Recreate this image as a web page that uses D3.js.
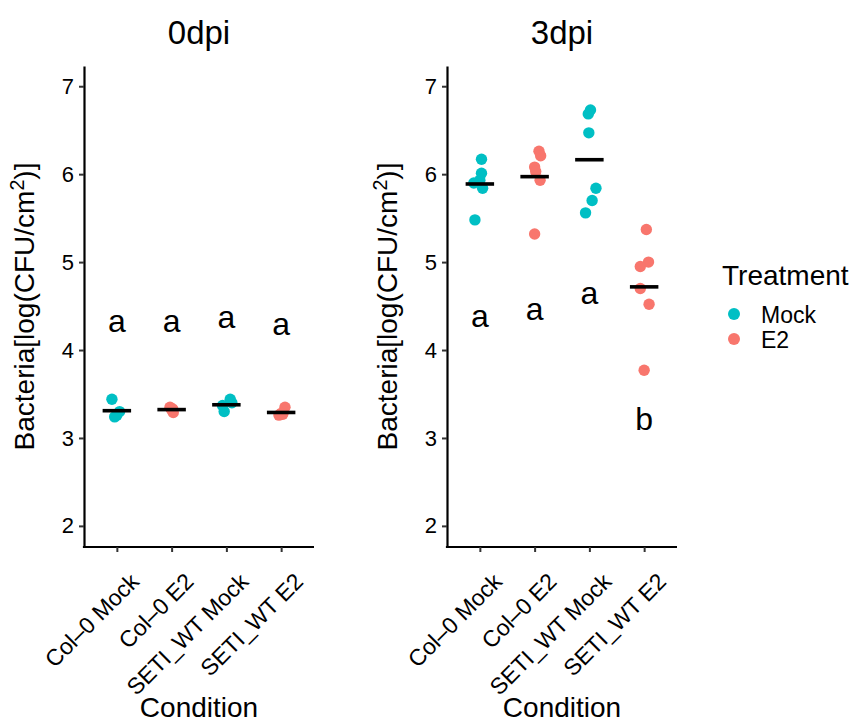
<!DOCTYPE html>
<html><head><meta charset="utf-8">
<script src="https://cdn.jsdelivr.net/npm/d3@7"></script>
<style>
body{margin:0;background:#fff}
text{font-family:"Liberation Sans",Arial,Helvetica,sans-serif;fill:#000}
</style>
</head><body>
<svg id="chart" width="853" height="723"></svg>
<script>
// ---------- data ----------
const categories = ["Col\u20130 Mock", "Col\u20130 E2", "SETI_WT Mock", "SETI_WT E2"];
const categoryTreatment = ["Mock", "E2", "Mock", "E2"];
const panelTitles = ["0dpi", "3dpi"];
const treatments = ["Mock", "E2"];
const treatmentColors = ["#00BFC4", "#F8766D"];
const yTickValues = [2, 3, 4, 5, 6, 7];

// 0dpi values per category
const values0dpi = [
  [3.44, 3.30, 3.26, 3.24],
  [3.35, 3.29, 3.32, 3.33],
  [3.44, 3.37, 3.30, 3.40],
  [3.35, 3.26, 3.28, 3.27]
];
const jitter0dpi = [
  [-0.09, 0.05, 0.00, -0.04],
  [-0.03, 0.03, 0.00, 0.02],
  [0.07, -0.07, -0.04, 0.10],
  [0.07, -0.04, 0.00, 0.03]
];
// 3dpi values per category
const values3dpi = [
  [6.17, 6.01, 5.90, 5.84, 5.93, 5.48],
  [6.26, 6.21, 6.08, 6.03, 5.93, 5.32],
  [6.73, 6.685, 6.47, 5.84, 5.70, 5.56],
  [5.37, 5.00, 4.95, 4.70, 4.52, 3.77]
];
const jitter3dpi = [
  [0.03, 0.03, -0.11, 0.05, 0.00, -0.09],
  [0.08, 0.11, 0.00, 0.02, 0.10, 0.00],
  [0.02, -0.02, -0.01, 0.12, 0.05, -0.07],
  [0.04, 0.08, -0.07, -0.07, 0.09, 0.00]
];
// significance letters
const letters0dpi = ["a", "a", "a", "a"];
const letterY0dpi = [4.20, 4.20, 4.25, 4.17];
const letters3dpi = ["a", "a", "a", "b"];
const letterY3dpi = [4.26, 4.34, 4.525, 3.09];

const panelValues = [values0dpi, values3dpi];
const panelJitter = [jitter0dpi, jitter3dpi];
const panelLetters = [letters0dpi, letters3dpi];
const panelLetterY = [letterY0dpi, letterY3dpi];

// ---------- layout ----------
const svg = d3.select("#chart");
const panelRanges = [[84, 314], [447, 677]];
const yTop = 66, yBottom = 547;
const y = d3.scaleLinear().domain([1.76, 7.23]).range([yBottom, yTop]);
const color = d3.scaleOrdinal().domain(treatments).range(treatmentColors);

const fsTitle = 33, fsAxisTitle = 28, fsTick = 22, fsXTick = 23, fsLetter = 32;

panelTitles.forEach((title, p) => {
  const x = d3.scalePoint().domain(categories).range(panelRanges[p]).padding(0.6);
  const step = x.step();
  const g = svg.append("g");
  const cx = (panelRanges[p][0] + panelRanges[p][1]) / 2;

  // y axis
  const ya = g.append("g").attr("transform", `translate(${panelRanges[p][0]},0)`)
    .call(d3.axisLeft(y).tickValues(yTickValues).tickFormat(d3.format("d"))
      .tickSize(5).tickSizeOuter(0).tickPadding(5));
  ya.select(".domain").attr("stroke", "#000").attr("stroke-width", 2.2);
  ya.selectAll(".tick line").attr("stroke", "#333").attr("stroke-width", 2);
  ya.selectAll(".tick text").attr("font-size", fsTick).attr("fill", "#222")
    .style("font-family", "Liberation Sans, Arial, sans-serif");

  // x axis
  const xa = g.append("g").attr("transform", `translate(0,${yBottom})`)
    .call(d3.axisBottom(x).tickSize(5).tickSizeOuter(0));
  xa.select(".domain").attr("stroke", "#000").attr("stroke-width", 2.2)
    .attr("d", `M${panelRanges[p][0] - 1.1},0H${panelRanges[p][1]}`);
  xa.selectAll(".tick line").attr("stroke", "#333").attr("stroke-width", 2);
  xa.selectAll(".tick text")
    .attr("x", 0).attr("y", 0).attr("dy", null)
    .attr("transform", "translate(23,36) rotate(-45)")
    .style("text-anchor", "end")
    .attr("font-size", fsXTick).attr("fill", "#222")
    .style("font-family", "Liberation Sans, Arial, sans-serif");

  // points
  const pts = [];
  panelValues[p].forEach((vals, ci) => {
    vals.forEach((v, k) => pts.push({cat: categories[ci], tr: categoryTreatment[ci], v, j: panelJitter[p][ci][k]}));
  });
  g.append("g").selectAll("circle").data(pts).join("circle")
    .attr("cx", d => x(d.cat) + d.j * step)
    .attr("cy", d => y(d.v))
    .attr("r", 5.7)
    .attr("fill", d => color(d.tr));

  // mean lines
  const means = panelValues[p].map((vals, ci) => ({cat: categories[ci], m: d3.mean(vals)}));
  g.append("g").selectAll("line").data(means).join("line")
    .attr("x1", d => x(d.cat) - 0.26 * step)
    .attr("x2", d => x(d.cat) + 0.26 * step)
    .attr("y1", d => y(d.m)).attr("y2", d => y(d.m))
    .attr("stroke", "#000").attr("stroke-width", 3.6);

  // letters
  g.append("g").selectAll("text").data(panelLetters[p]).join("text")
    .attr("x", (d, i) => x(categories[i]))
    .attr("y", (d, i) => y(panelLetterY[p][i]))
    .attr("text-anchor", "middle")
    .attr("font-size", fsLetter)
    .text(d => d);

  // panel title
  g.append("text").attr("x", cx).attr("y", 44).attr("text-anchor", "middle")
    .attr("font-size", fsTitle).text(title);

  // x axis title
  g.append("text").attr("x", cx).attr("y", 717).attr("text-anchor", "middle")
    .attr("font-size", fsAxisTitle).text("Condition");

  // y axis title
  const yt = g.append("text")
    .attr("transform", `translate(${panelRanges[p][0] - 50},${(yTop + yBottom) / 2}) rotate(-90)`)
    .attr("text-anchor", "middle").attr("font-size", fsAxisTitle);
  yt.append("tspan").text("Bacteria[log(CFU/cm");
  yt.append("tspan").attr("font-size", fsAxisTitle * 0.7).attr("dy", -10).text("2");
  yt.append("tspan").attr("dy", 10).text(")]");
});

// legend
const lg = svg.append("g");
lg.append("text").attr("x", 722).attr("y", 285).attr("font-size", 28).text("Treatment");
treatments.forEach((t, i) => {
  lg.append("circle").attr("cx", 734).attr("cy", 314 + i * 25).attr("r", 6).attr("fill", color(t));
  lg.append("text").attr("x", 761).attr("y", 323 + i * 25).attr("font-size", 23).text(t);
});
</script>
</body></html>
